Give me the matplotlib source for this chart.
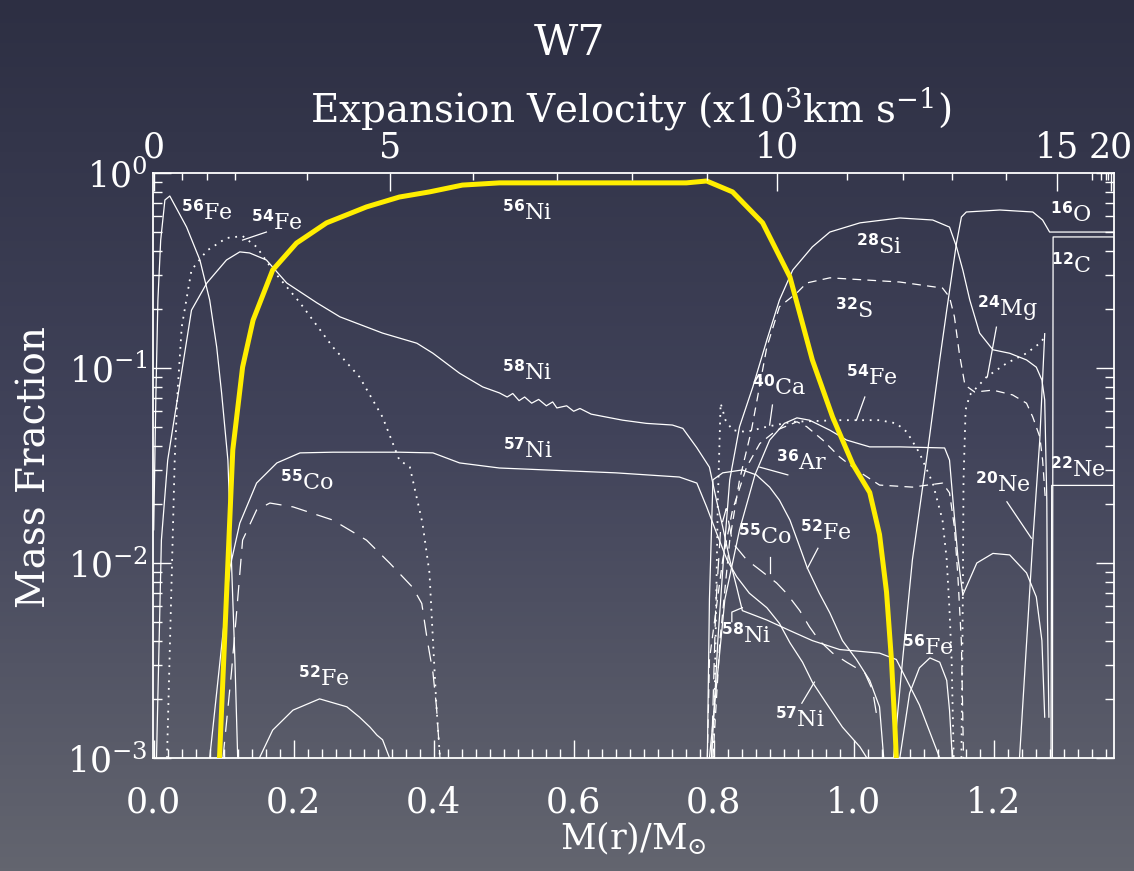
import numpy as np
import matplotlib
matplotlib.use("Agg")
import matplotlib.pyplot as plt
from matplotlib.colors import LinearSegmentedColormap
from matplotlib.ticker import MultipleLocator, NullFormatter, LogLocator

plt.rcParams['font.family'] = ['DejaVu Serif']
plt.rcParams['mathtext.fontset'] = 'custom'
plt.rcParams['mathtext.rm'] = 'DejaVu Serif'
plt.rcParams['mathtext.sf'] = 'DejaVu Sans:bold'
plt.rcParams['mathtext.default'] = 'regular'

# ---- data: mass coordinate M(r)/Msun and mass fraction ----
ni56_m = [0.094, 0.106, 0.113, 0.127, 0.142, 0.170, 0.204, 0.247, 0.304, 0.351, 0.394, 0.441,
          0.494, 0.60, 0.70, 0.761, 0.79, 0.827, 0.870, 0.909, 0.941, 0.970, 0.999, 1.023,
          1.037, 1.047, 1.054, 1.059, 1.061]
ni56_x = [1e-3, 1e-2, 0.038, 0.101, 0.176, 0.318, 0.437, 0.555, 0.67, 0.753, 0.80, 0.867,
          0.89, 0.89, 0.89, 0.89, 0.91, 0.80, 0.555, 0.293, 0.11, 0.056, 0.032, 0.023,
          0.014, 0.0071, 0.0032, 0.00145, 0.001]

fe56_in_m = [0.0, 0.003, 0.006, 0.010, 0.016, 0.023, 0.047, 0.066, 0.080, 0.090, 0.097,
             0.106, 0.111, 0.116, 0.120]
fe56_in_x = [0.0148, 0.069, 0.223, 0.453, 0.727, 0.762, 0.528, 0.358, 0.223, 0.128, 0.0745,
             0.0337, 0.0104, 0.0032, 0.001]

fe54_in_m = [0.019, 0.030, 0.034, 0.040, 0.054, 0.076, 0.104, 0.127, 0.147, 0.170, 0.209,
             0.256, 0.294, 0.327, 0.351, 0.366, 0.384, 0.394, 0.399, 0.404, 0.409]
fe54_in_x = [0.001, 0.0337, 0.0745, 0.162, 0.318, 0.40, 0.464, 0.475, 0.418, 0.318, 0.216,
             0.128, 0.090, 0.056, 0.0337, 0.031, 0.016, 0.0089, 0.0040, 0.00183, 0.001]

ni58_m = [0.004, 0.011, 0.020, 0.054, 0.076, 0.104, 0.123, 0.137, 0.161, 0.190, 0.233, 0.266,
          0.327, 0.376, 0.399, 0.437, 0.470, 0.494, 0.505, 0.513, 0.522, 0.530, 0.540, 0.550,
          0.561, 0.570, 0.576, 0.590, 0.600, 0.609, 0.625, 0.647, 0.670, 0.704, 0.741, 0.756,
          0.776, 0.794, 0.804, 0.813, 0.823, 0.833, 0.841, 0.876, 0.909, 0.941, 0.98, 1.037,
          1.061, 1.094, 1.123]
ni58_x = [0.001, 0.0131, 0.0337, 0.198, 0.273, 0.358, 0.394, 0.389, 0.358, 0.273, 0.216, 0.183,
          0.151, 0.134, 0.119, 0.094, 0.080, 0.0745, 0.071, 0.074, 0.068, 0.071, 0.066, 0.069,
          0.064, 0.067, 0.0624, 0.064, 0.060, 0.062, 0.058, 0.056, 0.054, 0.052, 0.051, 0.049,
          0.039, 0.031, 0.021, 0.0153, 0.0104, 0.0075, 0.0057, 0.0051, 0.0045, 0.0040, 0.0036,
          0.00345, 0.0032, 0.00187, 0.001]

ni57_m = [0.080, 0.109, 0.123, 0.147, 0.176, 0.209, 0.256, 0.351, 0.399, 0.437, 0.494, 0.561,
          0.660, 0.751, 0.776, 0.79, 0.804, 0.819, 0.833, 0.851, 0.876, 0.894, 0.909, 0.927,
          0.941, 0.961, 0.984, 1.009, 1.019]
ni57_x = [0.001, 0.0095, 0.016, 0.0257, 0.0326, 0.0367, 0.037, 0.037, 0.0367, 0.0326, 0.0307,
          0.030, 0.029, 0.0276, 0.0257, 0.0194, 0.0143, 0.0104, 0.0085, 0.0070, 0.0059, 0.0049,
          0.0039, 0.0031, 0.00245, 0.00191, 0.00144, 0.00114, 0.001]

co55_in_m = [0.099, 0.111, 0.119, 0.127, 0.147, 0.166, 0.199, 0.256, 0.304, 0.337, 0.370,
             0.383, 0.391, 0.399, 0.404, 0.409]
co55_in_x = [0.001, 0.00273, 0.0059, 0.0131, 0.0187, 0.0203, 0.0194, 0.0166, 0.0131, 0.0100,
             0.0075, 0.0062, 0.0040, 0.00273, 0.00183, 0.001]

fe52_in_m = [0.151, 0.170, 0.199, 0.237, 0.276, 0.294, 0.309, 0.319, 0.327, 0.337]
fe52_in_x = [0.001, 0.00139, 0.00176, 0.00201, 0.00183, 0.00162, 0.00144, 0.00131, 0.00124, 0.001]

fe54_out_m = [0.80, 0.806, 0.81, 0.817, 0.827, 0.847, 0.876, 0.913, 0.98, 1.037, 1.061, 1.076,
              1.094, 1.113, 1.127, 1.133, 1.137, 1.14, 1.143]
fe54_out_x = [0.001, 0.021, 0.066, 0.054, 0.048, 0.047, 0.050, 0.053, 0.054, 0.054, 0.052,
              0.047, 0.0367, 0.0257, 0.0166, 0.0104, 0.0057, 0.0032, 0.001]

si28_m = [0.797, 0.806, 0.814, 0.823, 0.837, 0.856, 0.876, 0.894, 0.913, 0.941, 0.966, 1.009,
          1.066, 1.113, 1.137, 1.147, 1.156, 1.166, 1.18, 1.199, 1.223, 1.247, 1.261, 1.269,
          1.273, 1.276, 1.277, 1.279]
si28_x = [0.001, 0.0040, 0.0104, 0.0267, 0.050, 0.080, 0.139, 0.223, 0.318, 0.418, 0.498, 0.555,
          0.588, 0.574, 0.528, 0.418, 0.318, 0.223, 0.151, 0.124, 0.119, 0.11, 0.101, 0.0868,
          0.0686, 0.021, 0.0051, 0.00162]

s32_m = [0.799, 0.809, 0.823, 0.837, 0.854, 0.876, 0.894, 0.919, 0.933, 0.966, 1.066, 1.127,
         1.137, 1.144, 1.151, 1.159, 1.173, 1.199, 1.227, 1.247, 1.256, 1.266, 1.27, 1.274]
s32_x = [0.001, 0.0040, 0.0131, 0.0267, 0.048, 0.128, 0.206, 0.243, 0.273, 0.29, 0.276, 0.257,
         0.231, 0.183, 0.119, 0.0818, 0.0753, 0.077, 0.0728, 0.066, 0.056, 0.0443, 0.0337, 0.021]

ca40_m = [0.791, 0.794, 0.813, 0.827, 0.847, 0.866, 0.89, 0.919, 0.933, 0.956, 0.98, 1.004,
          1.037, 1.084, 1.127, 1.137, 1.144, 1.149, 1.154, 1.157]
ca40_x = [0.001, 0.0032, 0.0104, 0.0187, 0.031, 0.041, 0.048, 0.053, 0.050, 0.0427, 0.035,
          0.030, 0.0251, 0.0245, 0.0257, 0.0229, 0.0153, 0.0085, 0.0039, 0.001]

ar36_m = [0.794, 0.816, 0.837, 0.859, 0.88, 0.901, 0.919, 0.937, 0.966, 0.99, 1.023, 1.066,
          1.13, 1.137, 1.141, 1.149, 1.156]
ar36_x = [0.001, 0.0065, 0.0148, 0.0283, 0.0427, 0.052, 0.0555, 0.054, 0.048, 0.0427, 0.0394,
          0.0394, 0.0389, 0.0337, 0.0229, 0.0107, 0.00686]

ne20_m = [1.156, 1.176, 1.199, 1.223, 1.247, 1.261, 1.269, 1.273]
ne20_x = [0.00686, 0.010, 0.0112, 0.011, 0.0089, 0.0067, 0.0040, 0.00162]

co55_out_m = [0.797, 0.803, 0.81, 0.818, 0.827, 0.847, 0.863, 0.89, 0.904, 0.923, 0.937, 0.951,
              0.97, 0.99, 1.016, 1.027, 1.034]
co55_out_x = [0.001, 0.006, 0.015, 0.019, 0.0127, 0.0104, 0.0094, 0.0079, 0.0070, 0.0057,
              0.0047, 0.0040, 0.00345, 0.0031, 0.00273, 0.00223, 0.00157]

fe52_out_m = [0.791, 0.794, 0.799, 0.813, 0.841, 0.861, 0.88, 0.894, 0.909, 0.923, 0.934, 0.951,
              0.966, 0.984, 1.004, 1.023, 1.037, 1.043]
fe52_out_x = [0.001, 0.0065, 0.0267, 0.029, 0.030, 0.0283, 0.0245, 0.021, 0.0166, 0.0121,
              0.0094, 0.0070, 0.00555, 0.0040, 0.0032, 0.0025, 0.00183, 0.001]

fe56_out_m = [1.066, 1.08, 1.094, 1.109, 1.123, 1.133, 1.137, 1.141]
fe56_out_x = [0.001, 0.00215, 0.0029, 0.00326, 0.0031, 0.0025, 0.00176, 0.001]

o16_m = [1.057, 1.07, 1.084, 1.104, 1.123, 1.133, 1.147, 1.154, 1.161, 1.209, 1.256, 1.27,
         1.28, 1.372]
o16_x = [0.001, 0.0032, 0.0104, 0.0337, 0.11, 0.198, 0.438, 0.595, 0.631, 0.646, 0.631, 0.574,
         0.498, 0.498]

mg24_m = [1.154, 1.156, 1.157, 1.16, 1.166, 1.19, 1.219, 1.247, 1.266, 1.276]
mg24_x = [0.001, 0.0065, 0.0267, 0.061, 0.0728, 0.090, 0.106, 0.119, 0.134, 0.148]

c12_m = [1.284, 1.285, 1.372]
c12_x = [0.001, 0.47, 0.47]

ne22_m = [1.282, 1.283, 1.372]
ne22_x = [0.001, 0.025, 0.025]

edge_m = [1.237, 1.256, 1.266, 1.269, 1.273]
edge_x = [0.001, 0.013, 0.043, 0.074, 0.15]

# velocity axis (x10^3 km/s) against mass coordinate
vel_major_m = [0.0, 0.337, 0.891, 1.290, 1.367]
vel_major_lab = ['0', '5', '10', '15', '20']
vel_minor_m = [0.040, 0.076, 0.116, 0.219, 0.456, 0.576, 0.684, 0.791,
               0.990, 1.071, 1.140, 1.217, 1.341, 1.353, 1.360, 1.364]

# ---- figure ----
W, H = 1134, 871
fig = plt.figure(figsize=(W / 100, H / 100), dpi=100)

bg = fig.add_axes([0, 0, 1, 1], zorder=-10)
cmap = LinearSegmentedColormap.from_list('bg', ['#2d2f43', '#41435a', '#63656f'])
bg.imshow(np.linspace(0, 1, 256).reshape(-1, 1), aspect='auto', cmap=cmap,
          extent=[0, 1, 0, 1])
bg.axis('off')

ax = fig.add_axes([153 / W, 1 - 758 / H, (1114 - 153) / W, (758 - 173) / H])
ax.patch.set_alpha(0)
ax.set_yscale('log')
ax.set_xlim(-0.001, 1.372)
ax.set_ylim(1e-3, 1)

solid = dict(color='white', lw=0.9, solid_joinstyle='round')
dotted = dict(color='white', lw=1.3, linestyle=(0, (1, 3.2)))
dashed = dict(color='white', lw=0.9, linestyle=(0, (7, 5)))
longdash = dict(color='white', lw=0.9, linestyle=(0, (13, 8)))

ax.plot(fe56_in_m, fe56_in_x, **solid)
ax.plot(fe54_in_m, fe54_in_x, **dotted)
ax.plot(ni58_m, ni58_x, **solid)
ax.plot(ni57_m, ni57_x, **solid)
ax.plot(co55_in_m, co55_in_x, **longdash)
ax.plot(fe52_in_m, fe52_in_x, **solid)
ax.plot(fe54_out_m, fe54_out_x, **dotted)
ax.plot(si28_m, si28_x, **solid)
ax.plot(s32_m, s32_x, **dashed)
ax.plot(ca40_m, ca40_x, **dashed)
ax.plot(ar36_m, ar36_x, **solid)
ax.plot(ne20_m, ne20_x, **solid)
ax.plot(co55_out_m, co55_out_x, **longdash)
ax.plot(fe52_out_m, fe52_out_x, **solid)
ax.plot(fe56_out_m, fe56_out_x, **solid)
ax.plot(o16_m, o16_x, **solid)
ax.plot(mg24_m, mg24_x, **dotted)
ax.plot(c12_m, c12_x, **solid)
ax.plot(ne22_m, ne22_x, **solid)
ax.plot(edge_m, edge_x, **solid)
ax.plot(ni56_m, ni56_x, color='#ffee00', lw=3.6, solid_joinstyle='round', zorder=5)

# isotope labels
labels = [
    ('56', 'Fe', 0.076, 0.63), ('54', 'Fe', 0.176, 0.555), ('56', 'Ni', 0.534, 0.63),
    ('58', 'Ni', 0.533, 0.095), ('57', 'Ni', 0.534, 0.0375), ('55', 'Co', 0.219, 0.0257),
    ('52', 'Fe', 0.243, 0.00254), ('28', 'Si', 1.037, 0.42), ('32', 'S', 1.001, 0.198),
    ('24', 'Mg', 1.22, 0.2), ('16', 'O', 1.31, 0.61), ('12', 'C', 1.31, 0.337),
    ('22', 'Ne', 1.32, 0.030), ('20', 'Ne', 1.213, 0.0251), ('40', 'Ca', 0.894, 0.079),
    ('54', 'Fe', 1.026, 0.089), ('36', 'Ar', 0.926, 0.0326), ('55', 'Co', 0.873, 0.0136),
    ('52', 'Fe', 0.961, 0.0143), ('58', 'Ni', 0.847, 0.00423), ('57', 'Ni', 0.923, 0.00157),
    ('56', 'Fe', 1.106, 0.0037),
]
for a, el, lx, ly in labels:
    ax.text(lx, ly, r'$^{\mathsf{' + a + '}}$' + el, color='white', fontsize=16,
            ha='center', va='center', zorder=6)

pointers = [
    ([0.127, 0.161], [0.453, 0.498]),
    ([1.204, 1.191], [0.162, 0.090]),
    ([1.219, 1.254], [0.0206, 0.0134]),
    ([0.884, 0.880], [0.0646, 0.051]),
    ([1.016, 1.004], [0.071, 0.054]),
    ([0.906, 0.866], [0.0283, 0.031]),
    ([0.880, 0.880], [0.0107, 0.0089]),
    ([0.949, 0.934], [0.0119, 0.0094]),
    ([0.841, 0.826, 0.826], [0.0059, 0.0056, 0.0050]),
    ([0.926, 0.944], [0.00191, 0.00245]),
]
for px, py in pointers:
    ax.plot(px, py, color='white', lw=0.9)

# axes styling
for s in ax.spines.values():
    s.set_color('white')
    s.set_linewidth(1.3)
ax.set_xticks([0.0, 0.2, 0.4, 0.6, 0.8, 1.0, 1.2])
ax.set_xticklabels(['0.0', '0.2', '0.4', '0.6', '0.8', '1.0', '1.2'])
ax.xaxis.set_minor_locator(MultipleLocator(0.02))
ax.yaxis.set_major_locator(LogLocator(base=10))
ax.yaxis.set_minor_locator(LogLocator(base=10, subs=np.arange(2, 10)))
ax.yaxis.set_minor_formatter(NullFormatter())
ax.tick_params(which='both', direction='in', colors='white', top=False, right=True,
               width=1.0)
ax.tick_params(which='major', length=13, labelsize=25)
ax.tick_params(which='minor', length=6.5)
ax.tick_params(axis='x', which='major', pad=20)
ax.tick_params(axis='y', which='major', pad=4)

ax2 = ax.twiny()
ax2.set_xlim(ax.get_xlim())
ax2.set_xticks(vel_major_m)
ax2.set_xticklabels(vel_major_lab)
ax2.set_xticks(vel_minor_m, minor=True)
ax2.tick_params(which='both', direction='in', colors='white', width=1.0)
ax2.tick_params(which='major', length=13, labelsize=25, pad=6)
ax2.tick_params(which='minor', length=5)
for s in ax2.spines.values():
    s.set_visible(False)

fig.text(570 / W, 1 - 43 / H, 'W7', color='white', fontsize=31, ha='center', va='center')
fig.text(631 / W, 1 - 108 / H, r'Expansion Velocity (x10$^3$km s$^{-1}$)', color='white',
         fontsize=28, ha='center', va='center')
fig.text(633 / W, 1 - 838 / H, r'M(r)/M$_{\odot}$', color='white', fontsize=25,
         ha='center', va='center')
fig.text(35 / W, 1 - 467 / H, 'Mass Fraction', color='white', fontsize=28, rotation=90,
         ha='center', va='center')

fig.savefig('out.png', dpi=100)
